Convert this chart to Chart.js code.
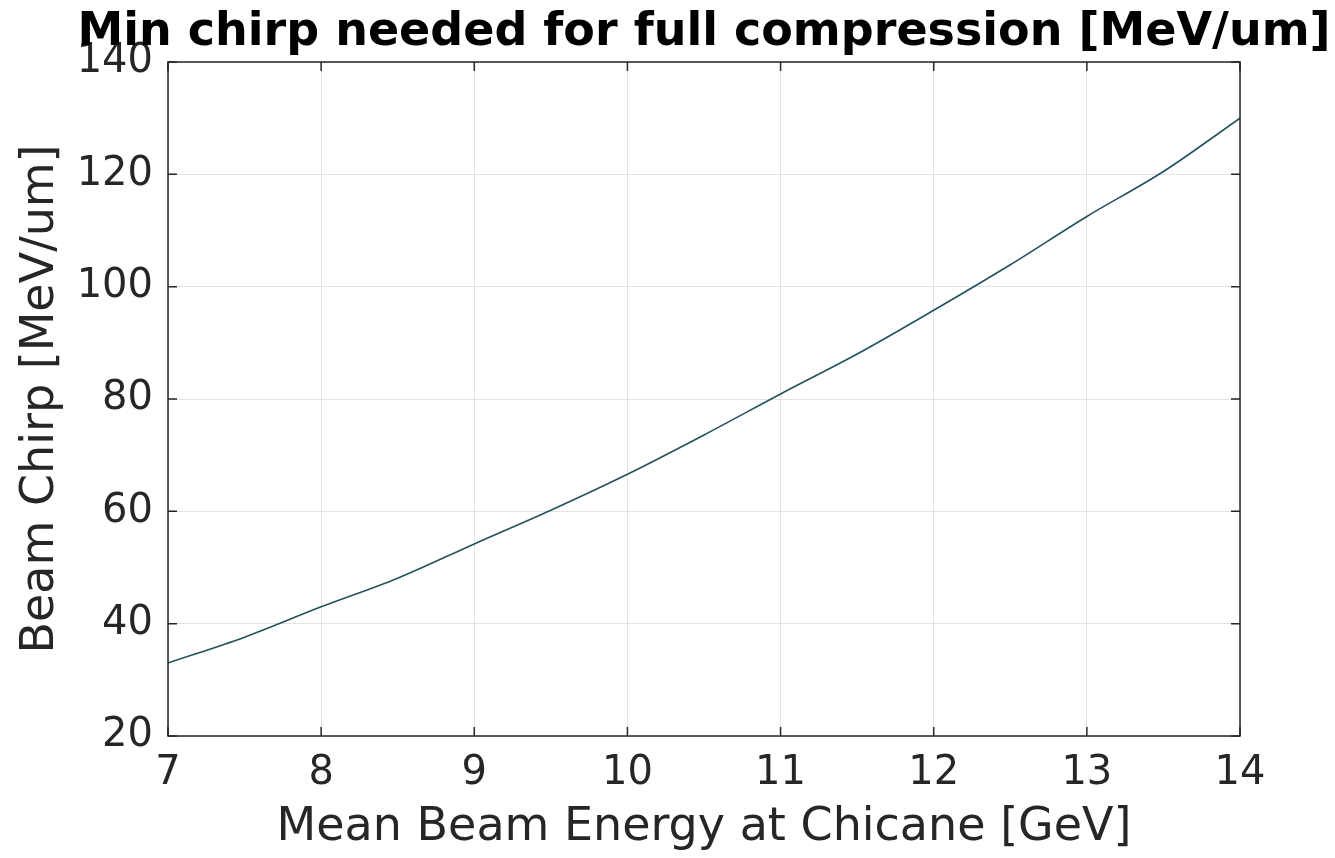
<!DOCTYPE html>
<html>
<head>
<meta charset="utf-8">
<script src="https://cdn.jsdelivr.net/npm/chart.js@4/dist/chart.umd.min.js"></script>
<style>
  html, body { margin: 0; padding: 0; background: #ffffff; }
  #wrap { width: 1335px; height: 858px; }
</style>
</head>
<body>
<div id="wrap"><canvas id="c" width="1335" height="858"></canvas></div>
<script>
// Mean beam energy at the chicane [GeV]
const energies = [7, 7.5, 8, 8.5, 9, 9.5, 10, 10.5, 11, 11.5, 12, 12.5, 13, 13.5, 14];
// Minimum chirp needed for full compression [MeV/um]
const chirp = [33.0, 37.6, 43.0, 48.1, 54.2, 60.2, 66.6, 73.6, 80.9, 88.0, 95.8, 103.9, 112.5, 120.5, 130.0];

const xTicks = [7, 8, 9, 10, 11, 12, 13, 14];
const yTicks = [20, 40, 60, 80, 100, 120, 140];

const titleText = 'Min chirp needed for full compression [MeV/um]';
const xLabel = 'Mean Beam Energy at Chicane [GeV]';
const yLabel = 'Beam Chirp [MeV/um]';

const ink = '#262626';
const FONT = "'DejaVu Sans', sans-serif";

// Box around the axes with short inward tick marks on every side
const axesBox = {
  id: 'axesBox',
  afterDraw(chart) {
    const { ctx, chartArea: a, scales } = chart;
    ctx.save();
    ctx.strokeStyle = ink;
    ctx.lineWidth = 1.5;
    ctx.strokeRect(a.left, a.top, a.right - a.left, a.bottom - a.top);
    const len = 9;
    ctx.beginPath();
    xTicks.forEach(v => {
      const px = scales.x.getPixelForValue(v);
      ctx.moveTo(px, a.bottom); ctx.lineTo(px, a.bottom - len);
      ctx.moveTo(px, a.top); ctx.lineTo(px, a.top + len);
    });
    yTicks.forEach(v => {
      const py = scales.y.getPixelForValue(v);
      ctx.moveTo(a.left, py); ctx.lineTo(a.left + len, py);
      ctx.moveTo(a.right, py); ctx.lineTo(a.right - len, py);
    });
    ctx.stroke();
    ctx.restore();
  }
};

// Bold title centred over the plot area (may extend past it on both sides)
const axesTitle = {
  id: 'axesTitle',
  afterDraw(chart) {
    const { ctx, chartArea: a } = chart;
    ctx.save();
    ctx.fillStyle = '#000000';
    ctx.font = "bold 46px 'DejaVu Sans', sans-serif";
    ctx.textAlign = 'center';
    ctx.textBaseline = 'alphabetic';
    ctx.fillText(titleText, (a.left + a.right) / 2, a.top - 17);
    ctx.restore();
  }
};

new Chart(document.getElementById('c'), {
  type: 'line',
  data: {
    datasets: [{
      data: energies.map((e, i) => ({ x: e, y: chirp[i] })),
      borderColor: '#24525f',
      borderWidth: 1.6,
      pointRadius: 0,
      fill: false,
      cubicInterpolationMode: 'monotone'
    }]
  },
  options: {
    responsive: false,
    animation: false,
    devicePixelRatio: 1,
    layout: { padding: { left: 0, right: 95, top: 62, bottom: 0 } },
    plugins: {
      legend: { display: false },
      tooltip: { enabled: false },
      title: { display: false }
    },
    scales: {
      x: {
        type: 'linear',
        min: 7, max: 14,
        afterBuildTicks: s => { s.ticks = xTicks.map(v => ({ value: v })); },
        afterFit: s => { s.height = 122; },
        grid: { color: '#e3e3e3', lineWidth: 1, drawTicks: false },
        border: { display: false },
        ticks: { color: ink, padding: 14, font: { family: FONT, size: 40 }, maxRotation: 0 },
        title: {
          display: true, text: xLabel, color: ink,
          font: { family: FONT, size: 46 }, padding: { top: 2, bottom: 2 }
        }
      },
      y: {
        type: 'linear',
        min: 20, max: 140,
        afterBuildTicks: s => { s.ticks = yTicks.map(v => ({ value: v })); },
        afterFit: s => { s.width = 168; },
        grid: { color: '#e3e3e3', lineWidth: 1, drawTicks: false },
        border: { display: false },
        ticks: { color: ink, padding: 15, font: { family: FONT, size: 40 } },
        title: {
          display: true, text: yLabel, color: ink,
          font: { family: FONT, size: 46 }, padding: { top: 13, bottom: 13 }
        }
      }
    }
  },
  plugins: [axesBox, axesTitle]
});
</script>
</body>
</html>
